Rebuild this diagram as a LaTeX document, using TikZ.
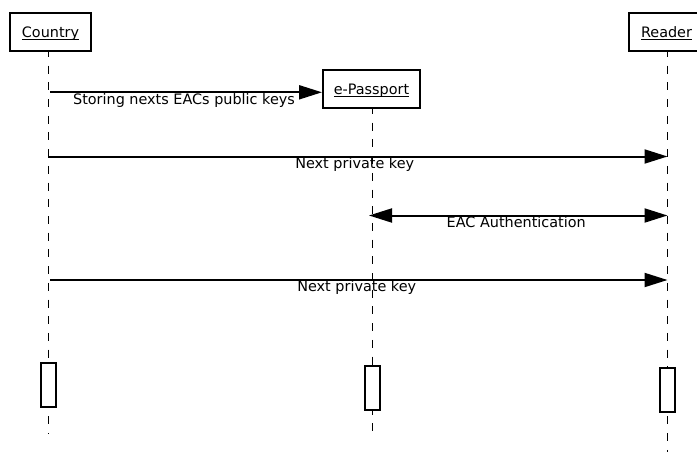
\documentclass[tikz,border=0pt]{standalone}
\usepackage{fontspec}
\setmainfont{DejaVu Sans}
\usetikzlibrary{arrows.meta}
\newcommand\ulname[1]{\setbox0\hbox{#1}\rlap{\rule[-2.3pt]{\wd0}{1pt}}\box0}
\begin{document}
\begin{tikzpicture}[x=1pt,y=-1pt,
  every node/.style={font=\fontsize{14.4}{17}\selectfont},
  actor/.style={draw, line width=2pt, minimum height=38pt, text height=10.5pt, text depth=0pt, inner xsep=0pt, fill=white},
  actbox/.style={draw, line width=2pt, fill=white, minimum width=15pt, minimum height=44pt, inner sep=0pt},
  life/.style={line width=1pt, dash pattern=on 8pt off 8.7pt, dash phase=3pt},
  msg/.style={line width=2pt, -{Triangle[length=23pt,width=14pt]}},
  dmsg/.style={line width=2pt, {Triangle[length=23pt,width=14pt]}-{Triangle[length=23pt,width=14pt]}},
  lbl/.style={anchor=base, inner sep=0pt}]
\useasboundingbox[fill=white] (0,0) rectangle (697,452);
% lifeline coordinates
\coordinate (cTop) at (48,52);
\coordinate (cEnd) at (48,434);
\coordinate (pTop) at (372,109);
\coordinate (pEnd) at (372,433);
\coordinate (rTop) at (667.5,52);
\coordinate (rEnd) at (667.5,452);
\draw[life] (cTop) -- (cEnd);
\draw[life] (pTop) -- (pEnd);
\draw[life] (rTop) -- (rEnd);
% actors
\node[actor, minimum width=81pt] (country) at (50.5,32) {\ulname{Country}};
\node[actor, minimum width=97pt] (passport) at (371.5,89) {\ulname{e-Passport}};
\node[actor, minimum width=75pt] (reader) at (666.5,32) {\ulname{Reader}};
% activation boxes
\node[actbox] (actC) at (48,385) {};
\node[actbox] (actP) at (372,387.5) {};
\node[actbox] (actR) at (667.5,389.5) {};
% messages
\coordinate (m1a) at (50,92.3);
\draw[msg] (m1a) -- node[lbl, xshift=-2pt, yshift=-12pt] {Storing nexts EACs public keys} (m1a -| passport.west);
\coordinate (m2a) at (48,156.5);
\coordinate (m2b) at (667.5,156.5);
\draw[msg] (m2a) -- node[lbl, xshift=-3pt, yshift=-11.5pt] {Next private key} (m2b);
\coordinate (m3a) at (369,215.5);
\coordinate (m3b) at (667.5,215.5);
\draw[dmsg] (m3a) -- node[lbl, xshift=-2pt, yshift=-12pt] {EAC Authentication} (m3b);
\coordinate (m4a) at (50,280);
\coordinate (m4b) at (667.5,280);
\draw[msg] (m4a) -- node[lbl, xshift=-2pt, yshift=-11.7pt] {Next private key} (m4b);
\end{tikzpicture}
\end{document}
